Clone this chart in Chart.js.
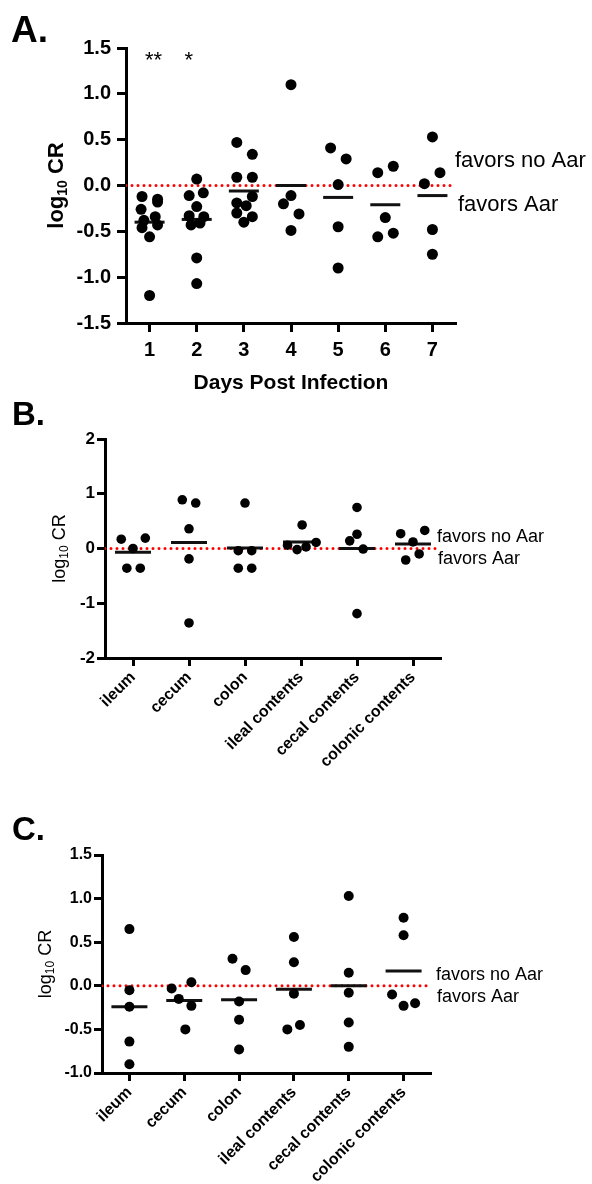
<!DOCTYPE html>
<html>
<head>
<meta charset="utf-8">
<script src="https://cdn.jsdelivr.net/npm/chart.js@4.4.0/dist/chart.umd.min.js"></script>
<style>
  html, body { margin: 0; padding: 0; background: #fff; }
  .panel { position: absolute; left: 0; }
  #wrapA { top: 0; }
  #wrapB { top: 390px; }
  #wrapC { top: 790px; }
</style>
</head>
<body>
<div class="panel" id="wrapA"><canvas id="chartA" width="592" height="400"></canvas></div>
<div class="panel" id="wrapB"><canvas id="chartB" width="592" height="400"></canvas></div>
<div class="panel" id="wrapC"><canvas id="chartC" width="592" height="394"></canvas></div>
<script>
const FONT = 'Arial, "Liberation Sans", sans-serif';

// ---- Panel A: log10 CR by day post infection ----
const daysA = [1, 2, 3, 4, 5, 6, 7];
const day1 = [-0.12, -0.15, -0.18, -0.26, -0.34, -0.38, -0.43, -0.46, -0.56, -1.20];
const day2 = [0.07, -0.08, -0.11, -0.23, -0.33, -0.34, -0.41, -0.43, -0.79, -1.07];
const day3 = [0.47, 0.34, 0.09, 0.09, -0.12, -0.19, -0.22, -0.30, -0.34, -0.40];
const day4 = [1.10, -0.11, -0.20, -0.31, -0.49];
const day5 = [0.41, 0.29, 0.01, -0.45, -0.90];
const day6 = [0.21, 0.14, -0.35, -0.52, -0.56];
const day7 = [0.53, 0.14, 0.02, -0.48, -0.75];
// horizontal scatter of the dots within each column
const jitA = [
  [-0.16, 0.17, 0.17, -0.18, 0.12, -0.12, 0.17, -0.16, 0, 0],
  [0, 0.14, -0.16, 0, -0.16, 0.15, 0.07, -0.12, 0, 0],
  [-0.15, 0.18, -0.15, 0.18, 0.18, -0.15, 0.05, -0.15, 0.18, 0],
  [0, 0, -0.16, 0.17, 0],
  [-0.16, 0.17, 0, 0, 0],
  [0.17, -0.16, 0, 0.17, -0.16],
  [0, 0.16, -0.17, 0, 0]
];
const meansA = [-0.40, -0.37, -0.06, 0.0, -0.13, -0.21, -0.11];
const starsA = ['**', '*', '', '', '', '', ''];
const yTicksA = [-1.5, -1.0, -0.5, 0, 0.5, 1.0, 1.5];

// ---- Panel B: tissues ----
const tissues = ['ileum', 'cecum', 'colon', 'ileal contents', 'cecal contents', 'colonic contents'];
const tissuePos = [1, 2, 3, 4, 5, 6];
const ileumB = [0.17, 0.19, 0.0, -0.36, -0.36];
const cecumB = [0.89, 0.83, 0.36, -0.19, -1.36];
const colonB = [0.83, -0.04, -0.04, -0.36, -0.36];
const ilealContB = [0.43, 0.06, -0.02, 0.03, 0.11];
const cecalContB = [0.75, 0.26, 0.14, -0.01, -1.19];
const colonicContB = [0.27, 0.33, 0.12, -0.21, -0.10];
const jitB = [
  [-0.21, 0.22, 0, -0.11, 0.13],
  [-0.12, 0.12, 0, 0, 0],
  [0, -0.12, 0.12, -0.12, 0.12],
  [0.02, -0.24, -0.07, 0.09, 0.27],
  [0, 0, -0.13, 0.11, 0],
  [-0.22, 0.21, 0, -0.13, 0.11]
];
const meansB = [-0.07, 0.11, 0.01, 0.12, 0.0, 0.08];
const yTicksB = [-2, -1, 0, 1, 2];

// ---- Panel C: tissues ----
const ileumC = [0.65, -0.05, -0.24, -0.64, -0.90];
const cecumC = [-0.03, 0.04, -0.15, -0.23, -0.50];
const colonC = [0.31, 0.18, -0.18, -0.39, -0.73];
const ilealContC = [0.56, 0.27, -0.09, -0.50, -0.45];
const cecalContC = [1.03, 0.15, -0.08, -0.42, -0.70];
const colonicContC = [0.78, 0.58, -0.10, -0.23, -0.20];
const jitC = [
  [0, 0, 0, 0, 0],
  [-0.23, 0.13, -0.10, 0.13, 0.02],
  [-0.12, 0.12, 0, 0, 0],
  [0, 0, 0, -0.12, 0.11],
  [0, 0, 0, 0, 0],
  [0, 0, -0.21, 0, 0.21]
];
const meansC = [-0.24, -0.17, -0.16, -0.04, 0.0, 0.17];
const yTicksC = [-1.0, -0.5, 0, 0.5, 1.0, 1.5];

// draws panel letter, y title with subscript, annotations, stars, x title
const panelDecor = {
  id: 'panelDecor',
  afterDraw(chart, args, o) {
    const ctx = chart.ctx;
    const area = chart.chartArea;
    const xs = chart.scales.x, ys = chart.scales.y;
    ctx.save();
    ctx.fillStyle = '#000';

    ctx.font = 'bold ' + o.letterSize + 'px ' + FONT;
    ctx.textAlign = 'left';
    ctx.textBaseline = 'alphabetic';
    ctx.fillText(o.letter, o.letterX, o.letterY);

    // log10 CR, rotated
    const main = o.titleWeight + ' ' + o.titleSize + 'px ' + FONT;
    const sub = o.titleWeight + ' ' + Math.round(o.titleSize * 0.64) + 'px ' + FONT;
    ctx.font = main;
    const w1 = ctx.measureText('log').width, w3 = ctx.measureText(' CR').width;
    ctx.font = sub;
    const w2 = ctx.measureText('10').width;
    ctx.translate(o.titleX, (area.top + area.bottom) / 2);
    ctx.rotate(-Math.PI / 2);
    ctx.textBaseline = 'middle';
    let px = -(w1 + w2 + w3) / 2;
    ctx.font = main; ctx.fillText('log', px, 0); px += w1;
    ctx.font = sub; ctx.fillText('10', px, o.titleSize * 0.28); px += w2;
    ctx.font = main; ctx.fillText(' CR', px, 0);
    ctx.setTransform(1, 0, 0, 1, 0, 0);

    const y0 = ys.getPixelForValue(0);
    ctx.font = o.noteSize + 'px ' + FONT;
    ctx.textBaseline = 'middle';
    ctx.fillText('favors no Aar', o.noteX, y0 + o.noteUp);
    ctx.fillText('favors Aar', o.noteX2, y0 + o.noteDown);

    if (o.stars) {
      ctx.font = '22px ' + FONT;
      ctx.textAlign = 'center';
      ctx.textBaseline = 'alphabetic';
      o.stars.forEach((s, i) => {
        if (s) ctx.fillText(s, xs.getPixelForValue(o.cats[i]) + (s.length > 1 ? 4 : -8), o.starY);
      });
    }
    if (o.xTitle) {
      ctx.font = 'bold 21px ' + FONT;
      ctx.textAlign = 'center';
      ctx.textBaseline = 'middle';
      ctx.fillText(o.xTitle, (area.left + area.right) / 2, o.xTitleY);
    }
    ctx.restore();
  }
};

function buildPanel(id, p) {
  const canvas = document.getElementById(id);
  const W = canvas.width, H = canvas.height;
  const points = [];
  p.groups.forEach((vals, i) => vals.forEach((v, j) => points.push({ x: p.cats[i] + p.jit[i][j], y: v })));
  const means = p.means.map((m, i) => ({ x: p.cats[i], y: m }));

  return new Chart(canvas, {
    type: 'scatter',
    data: {
      datasets: [
        { data: points, pointRadius: p.dot, pointHoverRadius: p.dot, pointBackgroundColor: '#000', pointBorderWidth: 0 },
        { data: means, pointStyle: 'line', pointRadius: p.bar, pointHoverRadius: p.bar,
          pointBorderColor: '#111', pointBorderWidth: 3, pointHoverBorderWidth: 3 },
        { type: 'line', data: [{ x: p.xMin, y: 0 }, { x: p.xMax, y: 0 }], showLine: true,
          borderColor: '#f00', borderWidth: 3, borderDash: [0, 6], borderCapStyle: 'round', pointRadius: 0 }
      ]
    },
    plugins: [panelDecor],
    options: {
      responsive: false,
      animation: false,
      events: [],
      layout: { padding: { top: p.area.top, right: W - p.area.right, left: 0, bottom: 0 } },
      plugins: {
        legend: { display: false },
        tooltip: { enabled: false },
        panelDecor: p.decor
      },
      scales: {
        x: {
          type: 'linear', min: p.xMin, max: p.xMax,
          afterBuildTicks: s => { s.ticks = p.cats.map(v => ({ value: v })); },
          afterFit: s => { s.height = H - p.area.bottom; },
          grid: { drawOnChartArea: false, tickLength: p.tickLen, tickWidth: 3, tickColor: '#000' },
          border: { color: '#000', width: 3 },
          ticks: {
            color: '#000', autoSkip: false, padding: p.xPad,
            minRotation: p.rot, maxRotation: p.rot,
            font: { family: FONT, size: p.xFont, weight: 'bold' },
            callback: (v, i) => p.xLabels[i]
          }
        },
        y: {
          min: p.yTicks[0], max: p.yTicks[p.yTicks.length - 1],
          afterBuildTicks: s => { s.ticks = p.yTicks.map(v => ({ value: v })); },
          afterFit: s => { s.width = p.area.left; },
          grid: { drawOnChartArea: false, tickLength: p.tickLen, tickWidth: 3, tickColor: '#000' },
          border: { color: '#000', width: 3 },
          ticks: {
            color: '#000', padding: p.yPad,
            font: { family: FONT, size: p.yFont, weight: 'bold' },
            callback: v => v.toFixed(p.yDec)
          }
        }
      }
    }
  });
}

buildPanel('chartA', {
  cats: daysA, xLabels: daysA.map(String), groups: [day1, day2, day3, day4, day5, day6, day7],
  jit: jitA, means: meansA, yTicks: yTicksA, yDec: 1, xMin: 0.5, xMax: 7.5,
  area: { left: 126, right: 456, top: 48, bottom: 323 },
  dot: 5.5, bar: 15, tickLen: 9, rot: 0, xFont: 20, yFont: 20, xPad: 6, yPad: 6,
  decor: {
    letter: 'A.', letterSize: 37, letterX: 11, letterY: 42,
    titleX: 57, titleSize: 22, titleWeight: 'bold',
    noteSize: 22, noteX: 455, noteX2: 458, noteUp: -25, noteDown: 19,
    stars: starsA, cats: daysA, starY: 67,
    xTitle: 'Days Post Infection', xTitleY: 383
  }
});

buildPanel('chartB', {
  cats: tissuePos, xLabels: tissues, groups: [ileumB, cecumB, colonB, ilealContB, cecalContB, colonicContB],
  jit: jitB, means: meansB, yTicks: yTicksB, yDec: 0, xMin: 0.5, xMax: 6.5,
  area: { left: 105, right: 441, top: 49, bottom: 268 },
  dot: 4.8, bar: 18, tickLen: 8, rot: 45, xFont: 16, yFont: 17, xPad: 2, yPad: 2,
  decor: {
    letter: 'B.', letterSize: 33, letterX: 12, letterY: 35,
    titleX: 60, titleSize: 18, titleWeight: 'normal',
    noteSize: 18, noteX: 437, noteX2: 438, noteUp: -11, noteDown: 11
  }
});

buildPanel('chartC', {
  cats: tissuePos, xLabels: tissues, groups: [ileumC, cecumC, colonC, ilealContC, cecalContC, colonicContC],
  jit: jitC, means: meansC, yTicks: yTicksC, yDec: 1, xMin: 0.5, xMax: 6.5,
  area: { left: 102, right: 431, top: 65, bottom: 283 },
  dot: 5, bar: 18, tickLen: 8, rot: 45, xFont: 16, yFont: 16, xPad: 2, yPad: 2,
  decor: {
    letter: 'C.', letterSize: 33, letterX: 12, letterY: 50,
    titleX: 46, titleSize: 18, titleWeight: 'normal',
    noteSize: 18, noteX: 436, noteX2: 437, noteUp: -11, noteDown: 11
  }
});
</script>
</body>
</html>
